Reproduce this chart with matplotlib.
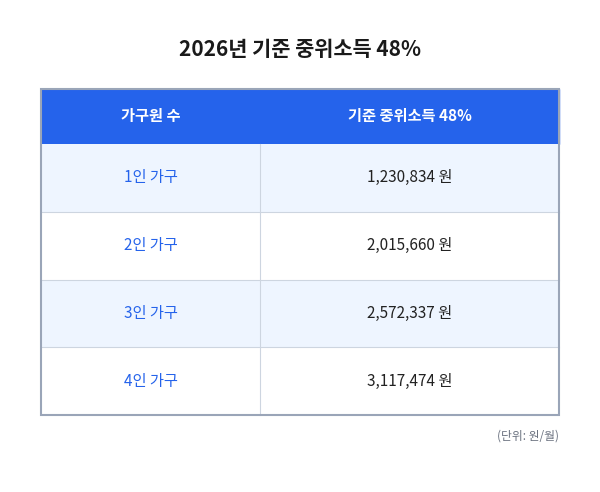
import matplotlib
matplotlib.use("Agg")
import matplotlib.pyplot as plt
from matplotlib.patches import Rectangle

plt.rcParams['font.family'] = ['Noto Sans CJK KR', 'DejaVu Sans']

title = "2026년 기준 중위소득 48%"
headers = ["가구원 수", "기준 중위소득 48%"]
households = ["1인 가구", "2인 가구", "3인 가구", "4인 가구"]
amounts = [1230834, 2015660, 2572337, 3117474]
note = "(단위: 원/월)"

fig = plt.figure(figsize=(6, 4.92), dpi=100)
ax = fig.add_axes([0, 0, 1, 1])
ax.set_xlim(0, 600); ax.set_ylim(492, 0); ax.axis('off')

x0, x1, xs = 41, 559, 260
hy0, hy1 = 89, 144
rh = (415 - 144) / len(households)

ax.text(300, 50, title, ha='center', va='center', fontsize=15, fontweight='bold', color='#1a1a1a')
ax.add_patch(Rectangle((x0, hy0), x1 - x0, hy1 - hy0, color='#2563EB', zorder=1))
ax.text((x0 + xs) / 2, (hy0 + hy1) / 2, headers[0], ha='center', va='center', color='white', fontsize=11, fontweight='bold')
ax.text((xs + x1) / 2, (hy0 + hy1) / 2, headers[1], ha='center', va='center', color='white', fontsize=11, fontweight='bold')

for i, (h, a) in enumerate(zip(households, amounts)):
    y = hy1 + i * rh
    bg = '#EEF5FF' if i % 2 == 0 else 'white'
    ax.add_patch(Rectangle((x0, y), x1 - x0, rh, facecolor=bg, edgecolor='none', zorder=1))
    if i > 0:
        ax.plot([x0, x1], [y, y], color='#CDD5E0', lw=0.8, zorder=2)
    ax.text((x0 + xs) / 2, y + rh / 2, h, ha='center', va='center', color='#2563EB', fontsize=11)
    ax.text((xs + x1) / 2, y + rh / 2, f"{a:,} 원", ha='center', va='center', color='#222222', fontsize=11)

ax.plot([xs, xs], [hy1, 415], color='#CDD5E0', lw=0.8, zorder=2)
ax.add_patch(Rectangle((x0, hy0), x1 - x0, 415 - hy0, fill=False, edgecolor='#9AA5B8', lw=1.5, zorder=3))
ax.text(x1, 436, note, ha='right', va='center', color='#6B7280', fontsize=8.5)

fig.savefig("out.png", dpi=100, facecolor='white')
